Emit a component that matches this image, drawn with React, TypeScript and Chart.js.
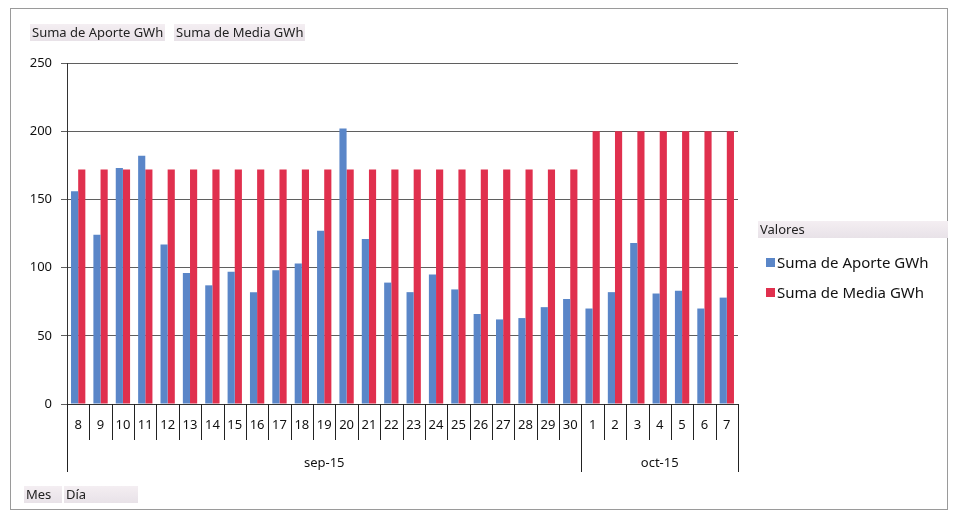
import React, { useEffect, useRef } from "react";
import { Chart, registerables } from "chart.js";

Chart.register(...registerables);

const days = ["8","9","10","11","12","13","14","15","16","17","18","19","20","21","22","23","24","25","26","27","28","29","30","1","2","3","4","5","6","7"];
const monthGroups = [
  { label: "sep-15", count: 23 },
  { label: "oct-15", count: 7 },
];
const aporte = [156,124,173,182,117,96,87,97,82,98,103,127,202,121,89,82,95,84,66,62,63,71,77,70,82,118,81,83,70,78];
const media = [172,172,172,172,172,172,172,172,172,172,172,172,172,172,172,172,172,172,172,172,172,172,172,200,200,200,200,200,200,200];
const yTicks = [0, 50, 100, 150, 200, 250];

const seriesNames = ["Suma de Aporte GWh", "Suma de Media GWh"];
const colors = ["#5a86c8", "#e0304e"];
const FONT = "'Noto Sans', 'DejaVu Sans', sans-serif";

const axisPlugin = {
  id: "groupAxis",
  afterDraw(chart: any) {
    const ctx = chart.ctx;
    const xs = chart.scales.x;
    const area = chart.chartArea;
    const step = xs.getPixelForValue(1) - xs.getPixelForValue(0);
    const edge = (i: number) => xs.getPixelForValue(0) - step / 2 + i * step;
    ctx.save();
    ctx.strokeStyle = "#222";
    ctx.lineWidth = 1;
    const bounds = new Set<number>();
    let acc = 0;
    bounds.add(0);
    monthGroups.forEach((g) => { acc += g.count; bounds.add(acc); });
    for (let i = 0; i <= days.length; i++) {
      const x = Math.round(edge(i)) + 0.5;
      ctx.beginPath();
      ctx.moveTo(x, area.bottom);
      ctx.lineTo(x, bounds.has(i) ? area.bottom + 68 : area.bottom + 36);
      ctx.stroke();
    }
    ctx.fillStyle = "#111";
    ctx.font = "13px " + FONT;
    ctx.textAlign = "center";
    ctx.textBaseline = "middle";
    let start = 0;
    monthGroups.forEach((g) => {
      const cx = (edge(start) + edge(start + g.count)) / 2;
      ctx.fillText(g.label, cx, area.bottom + 59);
      start += g.count;
    });
    ctx.restore();
  },
};

export default function App() {
  const ref = useRef<HTMLCanvasElement | null>(null);
  useEffect(() => {
    document.body.style.margin = "0";
    const chart = new Chart(ref.current as HTMLCanvasElement, {
      type: "bar",
      data: {
        labels: days,
        datasets: [
          { label: seriesNames[0], data: aporte, backgroundColor: colors[0], categoryPercentage: 0.64, barPercentage: 1.0 },
          { label: seriesNames[1], data: media, backgroundColor: colors[1], categoryPercentage: 0.64, barPercentage: 1.0 },
        ],
      },
      options: {
        responsive: false,
        animation: false,
        layout: { padding: { left: 0, right: 215, top: 63, bottom: 0 } },
        plugins: { legend: { display: false }, tooltip: { enabled: false } },
        scales: {
          x: {
            afterFit: (s: any) => { s.height = 112; },
            grid: { display: false, drawTicks: false },
            border: { display: true, color: "#333", width: 1 },
            ticks: { color: "#111", font: { size: 13, family: FONT }, padding: 13, maxRotation: 0, autoSkip: false },
          },
          y: {
            min: 0,
            max: 250,
            afterFit: (s: any) => { s.width = 67; },
            afterBuildTicks: (s: any) => { s.ticks = yTicks.map((v) => ({ value: v })); },
            grid: { color: "#5f5f5f", lineWidth: 1, tickLength: 6 },
            border: { display: true, color: "#333", width: 1 },
            ticks: { color: "#111", font: { size: 13, family: FONT }, padding: 9 },
          },
        },
      },
      plugins: [axisPlugin],
    });
    return () => chart.destroy();
  }, []);

  const btn: React.CSSProperties = {
    position: "absolute",
    fontFamily: FONT,
    fontSize: 13,
    color: "#222",
    background: "linear-gradient(#f4eef2, #e8e2e8)",
    padding: "0px 2px",
    lineHeight: "17px",
    whiteSpace: "nowrap",
  };

  return (
    <div style={{ position: "relative", width: 953, height: 516, background: "#fff", overflow: "hidden" }}>
      <div style={{ position: "absolute", left: 10, top: 8, width: 938, height: 502, border: "1px solid #9a9a9a", boxSizing: "border-box" }} />
      <canvas ref={ref} width={953} height={516} style={{ position: "absolute", left: 0, top: 0 }} />
      <div style={{ ...btn, left: 30, top: 24 }}>{seriesNames[0]}</div>
      <div style={{ ...btn, left: 174, top: 24 }}>{seriesNames[1]}</div>
      <div style={{ ...btn, left: 24, top: 486, width: 34 }}>Mes</div>
      <div style={{ ...btn, left: 64, top: 486, width: 70 }}>Día</div>
      <div style={{ ...btn, left: 758, top: 221, width: 186, fontSize: 13 }}>Valores</div>
      {seriesNames.map((n, i) => (
        <div key={n} style={{ position: "absolute", left: 766, top: 252 + i * 30, fontFamily: FONT, fontSize: 15, color: "#111", display: "flex", alignItems: "center", whiteSpace: "nowrap" }}>
          <span style={{ display: "inline-block", width: 9, height: 9, background: colors[i], marginRight: 2 }} />
          {n}
        </div>
      ))}
    </div>
  );
}
